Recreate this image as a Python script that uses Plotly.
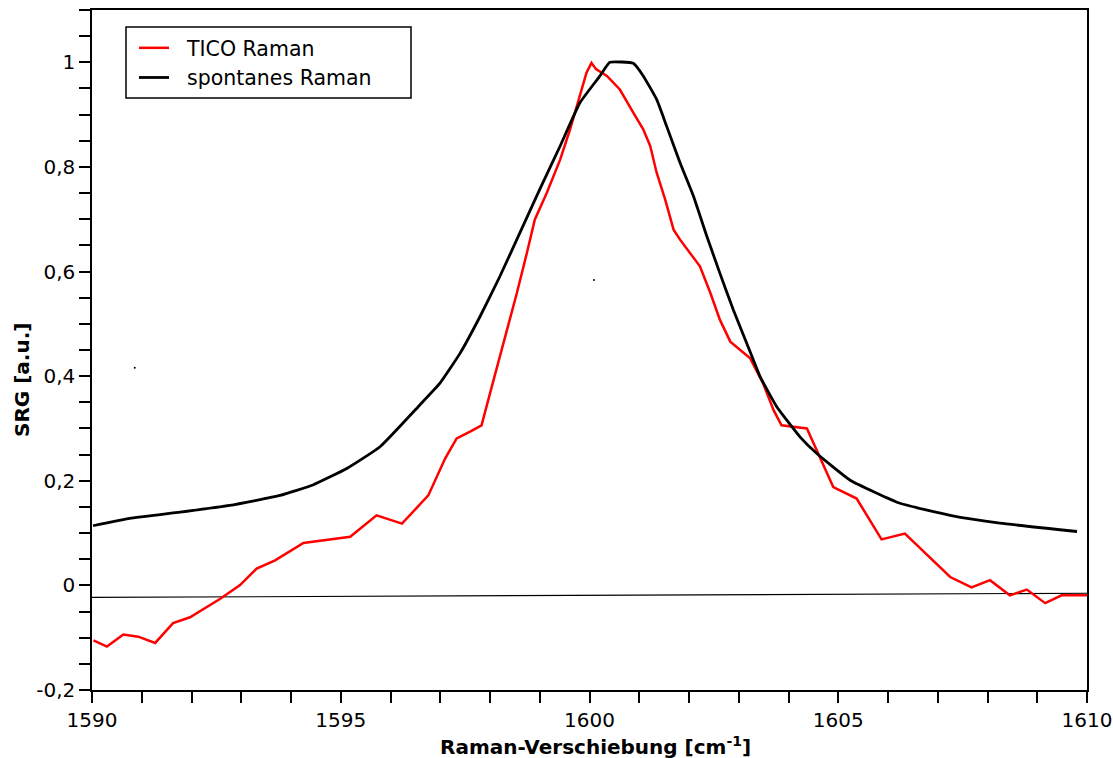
import plotly.graph_objects as go

# TICO Raman (red)
tico_x = [1590.03, 1590.30, 1590.63, 1590.93, 1591.27, 1591.63, 1591.97, 1592.37, 1592.57, 1592.97,
          1593.31, 1593.68, 1594.25, 1595.19, 1595.72, 1596.23, 1596.76, 1597.10, 1597.33, 1597.60,
          1597.83, 1598.00, 1598.20, 1598.37, 1598.54, 1598.74, 1598.90, 1599.14, 1599.41, 1599.61,
          1599.77, 1599.94, 1600.04, 1600.13, 1600.35, 1600.61, 1600.88, 1601.08, 1601.22, 1601.35,
          1601.52, 1601.69, 1601.82, 1602.22, 1602.43, 1602.62, 1602.83, 1603.23, 1603.49, 1603.70,
          1603.86, 1604.37, 1604.90, 1605.37, 1605.87, 1606.34, 1607.25, 1607.68, 1608.05, 1608.45,
          1608.79, 1609.16, 1609.49, 1610.0]
tico_y = [-0.105, -0.117, -0.094, -0.098, -0.110, -0.072, -0.061, -0.038, -0.026, 0.0,
          0.032, 0.048, 0.081, 0.093, 0.134, 0.118, 0.172, 0.243, 0.281, 0.294,
          0.306, 0.367, 0.437, 0.501, 0.559, 0.635, 0.699, 0.750, 0.814, 0.872,
          0.923, 0.980, 0.999, 0.987, 0.974, 0.948, 0.904, 0.872, 0.840, 0.789,
          0.738, 0.680, 0.661, 0.610, 0.559, 0.508, 0.466, 0.434, 0.386, 0.335,
          0.306, 0.300, 0.188, 0.166, 0.088, 0.099, 0.016, -0.004, 0.010, -0.019,
          -0.008, -0.034, -0.019, -0.019]

# spontanes Raman (black)
spont_x = [1590.02, 1590.76, 1591.77, 1592.77, 1593.78, 1594.44, 1595.13, 1595.79, 1596.59, 1596.99,
           1597.40, 1597.80, 1598.20, 1598.60, 1599.00, 1599.41, 1599.81, 1600.21, 1600.41, 1600.88,
           1601.08, 1601.35, 1601.55, 1601.82, 1602.09, 1602.36, 1602.62, 1602.89, 1603.16, 1603.43,
           1603.76, 1604.23, 1604.57, 1605.24, 1606.24, 1607.25, 1608.25, 1609.80]
spont_y = [0.114, 0.128, 0.140, 0.153, 0.172, 0.192, 0.224, 0.265, 0.345, 0.386,
           0.444, 0.514, 0.591, 0.674, 0.757, 0.840, 0.923, 0.974, 1.0, 0.998,
           0.974, 0.929, 0.878, 0.808, 0.744, 0.667, 0.597, 0.527, 0.463, 0.399,
           0.342, 0.284, 0.252, 0.201, 0.157, 0.134, 0.119, 0.103]

# thin baseline
base_x = [1590, 1610]
base_y = [-0.023, -0.015]

# stray specks
speck_x = [1590.86, 1600.09]
speck_y = [0.416, 0.584]

series_names = ["TICO Raman", "spontanes Raman"]

y_tickvals = [-0.2, 0, 0.2, 0.4, 0.6, 0.8, 1]
y_ticktext = ["-0,2", "0", "0,2", "0,4", "0,6", "0,8", "1"]
y_minor = [round(-0.2 + 0.05 * i, 2) for i in range(27)]
x_tickvals = [1590, 1595, 1600, 1605, 1610]
x_ticktext = ["1590", "1595", "1600", "1605", "1610"]
x_minor = list(range(1590, 1611))

FONT = "DejaVu Sans"
PAD = "\u00a0\u00a0"

fig = go.Figure()
fig.add_trace(go.Scatter(x=base_x, y=base_y, mode="lines", line=dict(color="black", width=1.2),
                         showlegend=False, hoverinfo="skip"))
fig.add_trace(go.Scatter(x=tico_x, y=tico_y, mode="lines", name=PAD + series_names[0],
                         line=dict(color="#ff0000", width=2.5)))
fig.add_trace(go.Scatter(x=spont_x, y=spont_y, mode="lines", name=PAD + series_names[1],
                         line=dict(color="black", width=2.8, shape="spline", smoothing=0.4)))
fig.add_trace(go.Scatter(x=speck_x, y=speck_y, mode="markers", marker=dict(color="black", size=2),
                         showlegend=False, hoverinfo="skip"))

fig.update_layout(
    width=1113, height=758,
    margin=dict(l=92, r=26, t=10, b=68),
    paper_bgcolor="white", plot_bgcolor="white",
    font=dict(family=FONT, size=20, color="black"),
    legend=dict(x=(134 - 92) / 995, y=(690 - 28) / 680, xanchor="left", yanchor="top",
                borderwidth=0, bgcolor="rgba(0,0,0,0)",
                font=dict(size=20.5), tracegroupgap=0, itemwidth=30),
    shapes=[dict(type="rect", xref="paper", yref="paper",
                 x0=(126 - 92) / 995, x1=(411 - 92) / 995,
                 y0=(690 - 98) / 680, y1=(690 - 27) / 680,
                 line=dict(color="black", width=1.5), fillcolor="rgba(0,0,0,0)", layer="above")],
    annotations=[dict(text="<b>SRG [a.u.]</b>", textangle=-90, xref="paper", yref="paper",
                      x=(22 - 92) / 995, y=(690 - 380) / 680, xanchor="center", yanchor="middle",
                      showarrow=False, font=dict(size=20)),
                 dict(text="<b>Raman-Verschiebung [cm<sup>-1</sup>]</b>", xref="paper", yref="paper",
                      x=(595 - 92) / 995, y=(690 - 746) / 680, xanchor="center", yanchor="middle",
                      showarrow=False, font=dict(size=20))],
)
fig.update_xaxes(
    range=[1590, 1610], showgrid=False, zeroline=False, automargin=False,
    showline=True, linecolor="black", linewidth=1.5, mirror=True,
    tickmode="array", tickvals=x_tickvals, ticktext=x_ticktext,
    ticks="outside", ticklen=11, tickwidth=1.5, tickcolor="black",
    minor=dict(tickmode="array", tickvals=x_minor, ticks="outside", ticklen=11, tickwidth=1.5, tickcolor="black"),
)
fig.update_yaxes(
    range=[-0.2, 1.1], showgrid=False, zeroline=False, automargin=False,
    showline=True, linecolor="black", linewidth=1.5, mirror=True,
    tickmode="array", tickvals=y_tickvals, ticktext=y_ticktext,
    ticks="outside", ticklen=11, tickwidth=1.5, tickcolor="black",
    minor=dict(tickmode="array", tickvals=y_minor, ticks="outside", ticklen=11, tickwidth=1.5, tickcolor="black"),
)

fig.write_html("out.html")
